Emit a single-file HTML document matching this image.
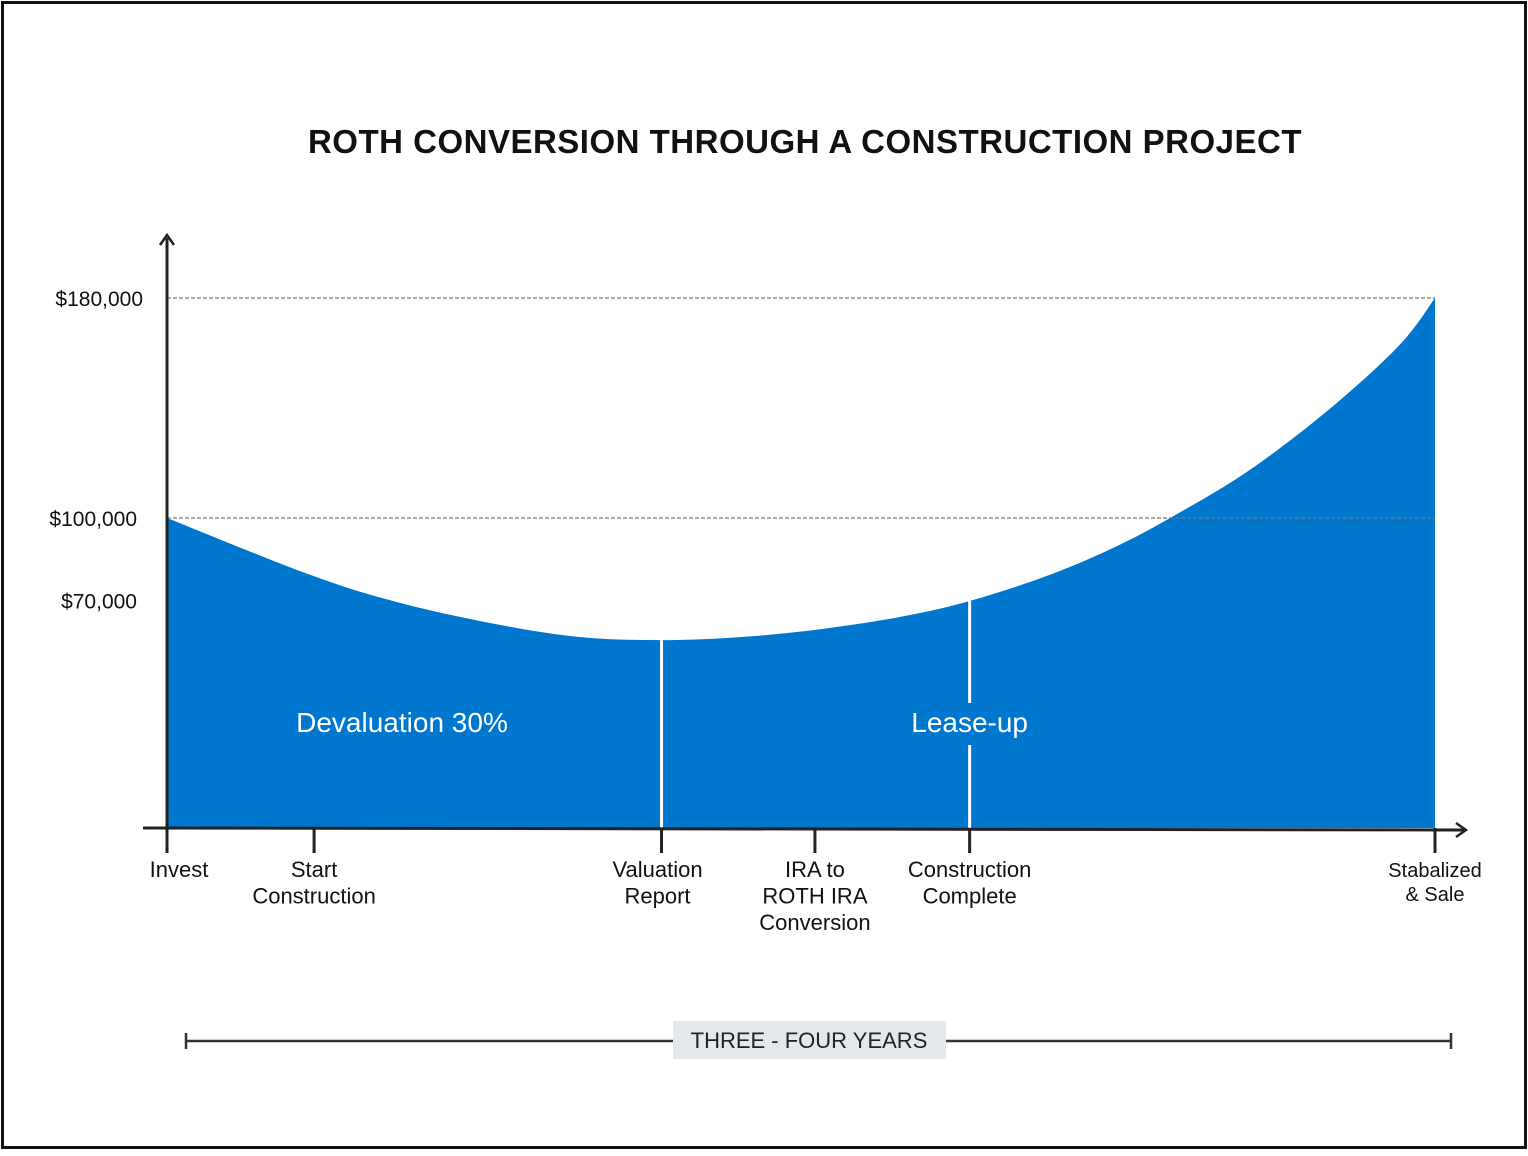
<!DOCTYPE html>
<html><head><meta charset="utf-8">
<style>
html,body{margin:0;padding:0;background:#fff;}
body{width:1528px;height:1151px;overflow:hidden;}
svg text{font-family:"Liberation Sans",sans-serif;}
</style></head>
<body>
<svg id="chart" width="1528" height="1151" viewBox="0 0 1528 1151" xmlns="http://www.w3.org/2000/svg">
<rect x="2.5" y="2.5" width="1523" height="1145" fill="#fff" stroke="#111" stroke-width="3"/>
<text x="805" y="153" text-anchor="middle" font-size="33" font-weight="bold" fill="#111" letter-spacing="0.5">ROTH CONVERSION THROUGH A CONSTRUCTION PROJECT</text>
<g id="plot"></g>
<g>
<line x1="186" y1="1041" x2="1451" y2="1041" stroke="#333" stroke-width="2.5"/>
<line x1="186" y1="1033" x2="186" y2="1049" stroke="#333" stroke-width="2.5"/>
<line x1="1451" y1="1033" x2="1451" y2="1049" stroke="#333" stroke-width="2.5"/>
<rect x="673" y="1021" width="273" height="38" fill="#e4e8ec"/>
<text x="809" y="1048" text-anchor="middle" font-size="22" fill="#222">THREE - FOUR YEARS</text>
</g>
</svg>
<script>
const times = [0, 11.3, 18.4, 26.3, 32.6, 39.0, 45.2, 51.1, 57.8, 63.3, 69.6, 75.1, 79.8, 85.4, 91.6, 97.2, 100];
const values = [100, 79.3, 69.1, 61.1, 56.7, 55.6, 56.7, 59.3, 64.0, 69.8, 79.3, 90.2, 101.8, 117.5, 139.3, 162.9, 180];
const yTicks = [180, 100, 70];
const yTickLabels = ["$180,000", "$100,000", "$70,000"];
const gridValues = [180, 100];
const milestoneTimes = [0, 11.6, 39.0, 51.1, 63.3, 100];
const milestoneLabels = [["Invest"], ["Start", "Construction"], ["Valuation", "Report"], ["IRA to", "ROTH IRA", "Conversion"], ["Construction", "Complete"], ["Stabalized", "& Sale"]];

const NS = "http://www.w3.org/2000/svg";
const x0 = 167, x1 = 1435, yAxis = 828;
const xs = t => x0 + (t / 100) * (x1 - x0);
const ys = v => 518 - (v - 100) * 2.75;
const plot = document.getElementById('plot');
function mk(tag, attrs, parent) {
  const e = document.createElementNS(NS, tag);
  for (const k in attrs) e.setAttribute(k, attrs[k]);
  (parent || plot).appendChild(e);
  return e;
}
// area path via Catmull-Rom
const pts = times.map((t, i) => [xs(t), ys(values[i])]);
let d = `M${xs(0)},${yAxis} L${pts[0][0]},${pts[0][1]}`;
for (let i = 0; i < pts.length - 1; i++) {
  const p0 = pts[i - 1] || pts[i], p1 = pts[i], p2 = pts[i + 1], p3 = pts[i + 2] || p2;
  const c1 = [p1[0] + (p2[0] - p0[0]) / 6, p1[1] + (p2[1] - p0[1]) / 6];
  const c2 = [p2[0] - (p3[0] - p1[0]) / 6, p2[1] - (p3[1] - p1[1]) / 6];
  d += ` C${c1[0]},${c1[1]} ${c2[0]},${c2[1]} ${p2[0]},${p2[1]}`;
}
d += ` L${xs(100)},${yAxis} Z`;
const area = mk('path', {d: d, fill: '#0077cf'});



// grid lines
gridValues.forEach(v => {
  const g = mk('line', {x1: x0, x2: x1, y1: ys(v), y2: ys(v), stroke: '#777', 'stroke-width': 1.2, 'stroke-dasharray': '4,2'});
  
  
});
// y tick labels
yTicks.forEach((v, i) => {
  const t = mk('text', {x: 143 - (i > 0 ? 6 : 0), y: ys(v) + 8, 'text-anchor': 'end', 'font-size': 21, fill: '#111'});
  t.textContent = yTickLabels[i];
  
  
});
// white dividers at valuation and construction complete
[39.0, 63.3].forEach((t, i) => {
  const x = xs(t);
  const top = i === 0 ? ys(55.6) : ys(69.8);
  if (i === 0) {
    const l = mk('line', {x1: x, x2: x, y1: top, y2: yAxis, stroke: '#fff', 'stroke-width': 3});
    
    
  } else {
    const a = mk('line', {x1: x, x2: x, y1: top, y2: 703, stroke: '#fff', 'stroke-width': 3});
    
    
    const b = mk('line', {x1: x, x2: x, y1: 745, y2: yAxis, stroke: '#fff', 'stroke-width': 3});
    
    
  }
});
const t1 = mk('text', {x: 402, y: 732, 'text-anchor': 'middle', 'font-size': 28, fill: '#fff'});
t1.textContent = 'Devaluation 30%';


const t2 = mk('text', {x: xs(63.3), y: 732, 'text-anchor': 'middle', 'font-size': 28, fill: '#fff'});
t2.textContent = 'Lease-up';



// axes
const ya = mk('line', {x1: x0, x2: x0, y1: 238, y2: yAxis, stroke: '#222', 'stroke-width': 3});


const yar = mk('path', {d: 'M160,245 L167,235 L174,245', fill: 'none', stroke: '#222', 'stroke-width': 2.5});


const xa = mk('line', {x1: 143, x2: 1464, y1: yAxis, y2: 830, stroke: '#222', 'stroke-width': 3});


const xar = mk('path', {d: 'M1456,823 L1466,830 L1456,837', fill: 'none', stroke: '#222', 'stroke-width': 2.5});



// milestones
milestoneTimes.forEach((t, i) => {
  const x = xs(t);
  const tk = mk('line', {x1: x, x2: x, y1: yAxis, y2: 853, stroke: '#222', 'stroke-width': 3});
  
  
  const last = i === milestoneTimes.length - 1;
  const lx = i === 0 ? x + 12 : (i === 2 ? x - 4 : x);
  const txt = mk('text', {x: lx, y: 877, 'text-anchor': 'middle', 'font-size': last ? 20 : 22, fill: '#111'});
  
  
  milestoneLabels[i].forEach((line, j) => {
    const ts = mk('tspan', {x: lx, dy: j === 0 ? 0 : (last ? 24 : 26.5)}, txt);
    ts.textContent = line;
  });
});
</script>
</body></html>
